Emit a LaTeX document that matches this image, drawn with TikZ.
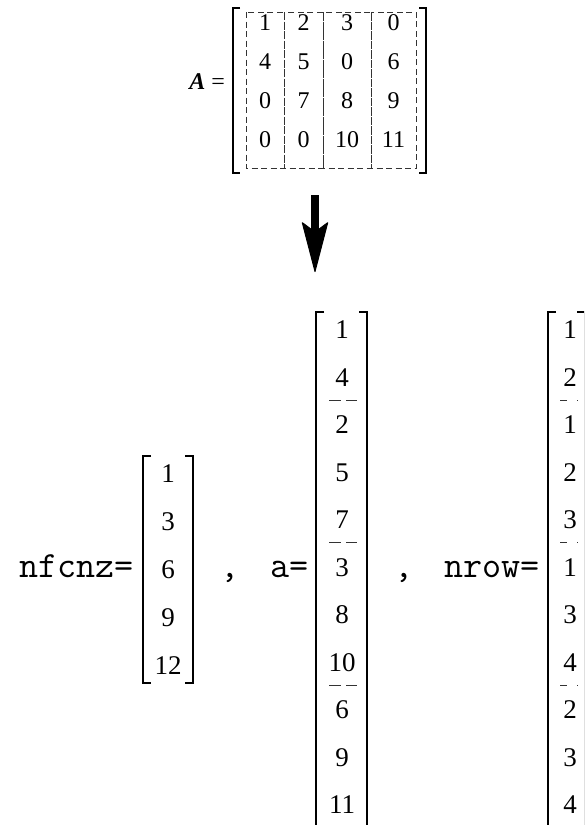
\documentclass[tikz,border=0pt]{standalone}
\usepackage{fontspec}
\setmainfont{Liberation Serif}
\usetikzlibrary{arrows.meta}
\begin{document}
\begin{tikzpicture}[x=1pt,y=-1pt,
  topent/.style={font=\fontsize{24}{24}\selectfont, inner sep=0pt},
  ent/.style={font=\fontsize{27}{27}\selectfont, inner sep=0pt},
  code/.style={font=\ttfamily\fontsize{37}{37}\selectfont, inner sep=0pt},
  brk/.style={line width=1.4pt, line join=miter},
  cell/.style={draw=black!80, line width=1pt, dash pattern=on 6pt off 3.5pt},
  sepline/.style={draw=black!80, line width=1pt, dash pattern=on 12pt off 5pt},
  sepshort/.style={draw=black!80, line width=1pt, dash pattern=on 7pt off 10pt}
]
\path[use as bounding box] (0,0) rectangle (584,825);
\clip (0,0) rectangle (584,825);

% ---- matrix A ----
\node[topent, anchor=east] (Alab) at (225,82) {\textbf{\textit{A}} =};
\draw[brk] (240,8) -- (233,8) -- (233,173) -- (240,173);
\draw[brk] (419,8) -- (426,8) -- (426,173) -- (419,173);
\draw[cell] (246,12) rectangle (284,168);
\draw[cell] (284,12) rectangle (323,168);
\draw[cell] (323,12) rectangle (371,168);
\draw[cell] (371,12) rectangle (416,168);
\foreach \x/\a/\b/\c/\d [count=\j] in {265/1/4/0/0, 303.5/2/5/7/0, 347/3/0/8/10, 393.5/0/6/9/11}{
  \node[topent] (A-1-\j) at (\x,23)  {\a};
  \node[topent] (A-2-\j) at (\x,62)  {\b};
  \node[topent] (A-3-\j) at (\x,101) {\c};
  \node[topent] (A-4-\j) at (\x,140) {\d};
}

% ---- arrow ----
\coordinate (arrtop) at (315,195);
\coordinate (arrtip) at (315,272);
\draw[line width=8pt, -{Stealth[length=52pt, width=27pt, inset=10pt, line width=1pt, round]}] (arrtop) -- (arrtip);

% ---- nfcnz ----
\node[code, anchor=base east] (nfcnzlab) at (134,577) {nfcnz=};
\draw[brk] (151,456) -- (143,456) -- (143,683) -- (151,683);
\draw[brk] (185,456) -- (193,456) -- (193,683) -- (185,683);
\foreach \v [count=\i] in {1,3,6,9,12}
  \node[ent] (nf-\i) at (168,{474+48*(\i-1)}) {\v};
\node[code, anchor=base] (comma1) at (230,577) {,};

% ---- a ----
\node[code, anchor=base east] (alab) at (309,577) {a=};
\draw[brk] (324,312) -- (316,312) -- (316,850);
\draw[brk] (359,312) -- (367,312) -- (367,850);
\foreach \v [count=\i] in {1,4,2,5,7,3,8,10,6,9,11}
  \node[ent] (a-\i) at (342,{330+47.5*(\i-1)}) {\v};
\foreach \k in {1.5,4.5,7.5}
  \draw[sepline] (329,{329+47.5*\k}) -- (357,{329+47.5*\k});
\node[code, anchor=base] (comma2) at (404,577) {,};

% ---- nrow ----
\node[code, anchor=base east] (nrowlab) at (540,577) {nrow=};
\draw[brk] (556,312) -- (548,312) -- (548,850);
\draw[brk] (577,312) -- (585,312) -- (585,850);
\foreach \v [count=\i] in {1,2,1,2,3,1,3,4,2,3,4}
  \node[ent] (nr-\i) at (570,{330+47.5*(\i-1)}) {\v};
\foreach \k in {1.5,4.5,7.5}
  \draw[sepshort] (560,{329+47.5*\k}) -- (578,{329+47.5*\k});
\end{tikzpicture}
\end{document}
